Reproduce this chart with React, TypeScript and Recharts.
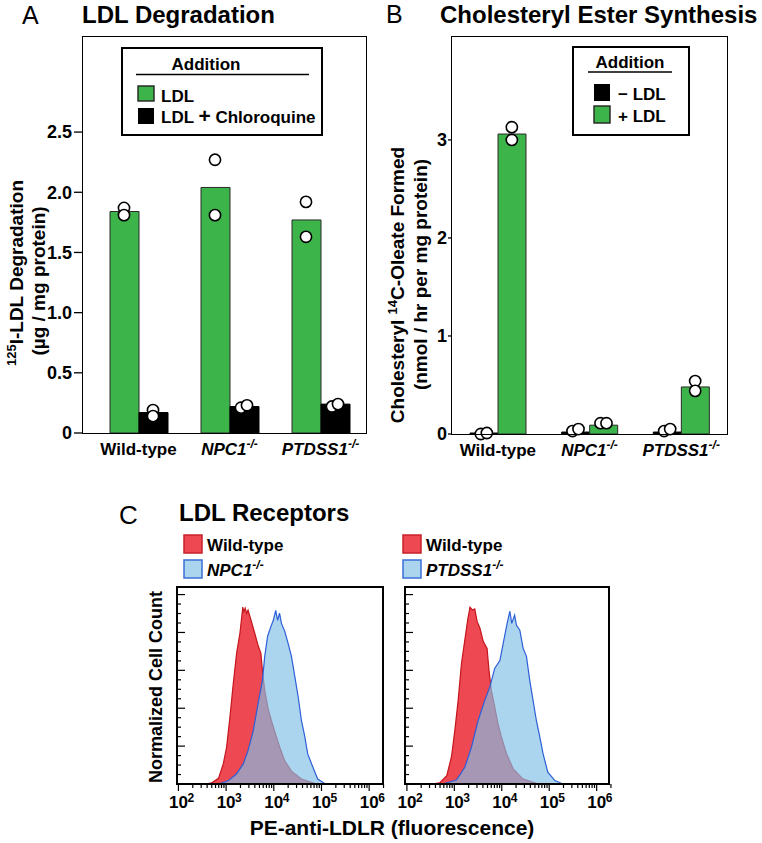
import React from 'react';
import { ComposedChart, Bar, Scatter, XAxis, YAxis, AreaChart, Area } from 'recharts';

const FONT = '"Liberation Sans", Arial, Helvetica, sans-serif';
const GREEN = '#3cb44a';
const RED_FILL = '#ee4852';
const RED_LINE = '#c4161c';
const BLUE_FILL = '#82bfe6';
const BLUE_LINE = '#2c5fd8';

// categories shared by panels A and B
const groups = ['Wild-type', 'NPC1', 'PTDSS1'];

// Panel A: 125I-LDL degradation (ug/mg protein)
const ldlMean = [1.84, 2.04, 1.77];
const ldlReps = [[1.87, 1.81], [2.27, 1.81], [1.92, 1.63]];
const chloroMean = [0.17, 0.22, 0.24];
const chloroReps = [[0.19, 0.14], [0.21, 0.23], [0.22, 0.24]];
const aTicks = [0, 0.5, 1, 1.5, 2, 2.5];

// Panel B: cholesteryl 14C-oleate formed (nmol/hr per mg protein)
const minusMean = [0.01, 0.02, 0.02];
const minusReps = [[0.0, 0.01], [0.03, 0.05], [0.03, 0.05]];
const plusMean = [3.06, 0.09, 0.48];
const plusReps = [[3.13, 3.0], [0.11, 0.11], [0.54, 0.44]];
const bTicks = [0, 1, 2, 3];

// Panel C: histograms, [log10 fluorescence, normalized count]
const npcRed = [
  [2.56, 0], [2.7, 0.03], [2.84, 0.15], [2.94, 0.53], [3.01, 0.97], [3.08, 1.77], [3.15, 2.65],
  [3.22, 3.45], [3.29, 3.98], [3.35, 4.67], [3.37, 4.55], [3.4, 4.64], [3.43, 4.5], [3.46, 4.59],
  [3.53, 4.29], [3.6, 3.98], [3.67, 3.66], [3.73, 3.45], [3.76, 3.0], [3.81, 2.47], [3.88, 1.99],
  [3.95, 1.67], [4.02, 1.38], [4.125, 0.97], [4.23, 0.61], [4.37, 0.34], [4.58, 0.13], [4.85, 0.02], [4.96, 0],
];
const npcBlue = [
  [2.84, 0], [3.05, 0.09], [3.22, 0.27], [3.36, 0.53], [3.46, 0.88], [3.57, 1.41], [3.67, 2.12],
  [3.76, 2.73], [3.81, 3.37], [3.87, 3.9], [3.94, 4.16], [3.99, 4.32], [4.04, 4.58], [4.08, 4.32],
  [4.12, 4.51], [4.16, 4.24], [4.23, 4.03], [4.3, 3.71], [4.37, 3.37], [4.44, 2.84], [4.51, 2.31],
  [4.58, 1.67], [4.65, 1.25], [4.71, 0.8], [4.82, 0.44], [4.92, 0.13], [5.06, 0.02], [5.17, 0],
];
const ptdRed = [
  [2.52, 0], [2.69, 0.03], [2.84, 0.22], [2.94, 0.72], [3.01, 1.41], [3.08, 2.2], [3.15, 3.18],
  [3.22, 3.79], [3.28, 4.32], [3.33, 4.67], [3.38, 4.59], [3.43, 4.62], [3.48, 4.29], [3.54, 4.11],
  [3.61, 3.76], [3.69, 3.58], [3.73, 3.0], [3.78, 2.47], [3.85, 2.04], [3.92, 1.59], [3.99, 1.25],
  [4.1, 0.8], [4.24, 0.4], [4.45, 0.13], [4.73, 0.02], [4.85, 0],
];
const ptdBlue = [
  [2.76, 0], [3.05, 0.11], [3.22, 0.44], [3.36, 0.97], [3.5, 1.67], [3.64, 2.2], [3.75, 2.57],
  [3.85, 3.05], [3.96, 3.26], [4.03, 3.71], [4.1, 4.16], [4.17, 4.56], [4.21, 4.24], [4.27, 4.46],
  [4.31, 4.19], [4.38, 4.06], [4.45, 3.58], [4.52, 3.37], [4.59, 2.73], [4.66, 2.2], [4.73, 1.67],
  [4.8, 1.25], [4.87, 0.8], [4.97, 0.31], [5.12, 0.09], [5.29, 0],
];
const cYTicks = [0.25, 0.5, 0.75, 1, 1.25, 1.5, 1.75, 2, 2.25, 2.5, 2.75, 3, 3.25, 3.5, 3.75, 4, 4.25, 4.5, 4.75, 5];
const cDecades = [2, 3, 4, 5, 6];
const cMinor = [2, 3, 4, 5, 6, 7, 8, 9];

const cXTicks = cDecades.flatMap((d) => [d, ...cMinor.map((m) => d + Math.log10(m))]);

const rowsA = groups.map((name, i) => ({
  name,
  ldl: ldlMean[i], chloro: chloroMean[i],
  g1: ldlReps[i][0], g2: ldlReps[i][1], k1: chloroReps[i][0], k2: chloroReps[i][1],
}));
const rowsB = groups.map((name, i) => ({
  name,
  minus: minusMean[i], plus: plusMean[i],
  k1: minusReps[i][0], k2: minusReps[i][1], g1: plusReps[i][0], g2: plusReps[i][1],
}));

function mergeCurves(red: number[][], blue: number[][]) {
  const xs = Array.from(new Set([...red.map((p) => p[0]), ...blue.map((p) => p[0])])).sort((a, b) => a - b);
  const mr = new Map(red.map((p) => [p[0], p[1]]));
  const mb = new Map(blue.map((p) => [p[0], p[1]]));
  return xs.map((x) => ({ x, red: mr.get(x), blue: mb.get(x) }));
}

// replicate circle, shifted over its own bar; near-identical pairs are spread apart
const makeDot = (shift: number, key: string, other: string, side: number, thr: number) => (props: any) => {
  const { cx, cy, payload } = props;
  if (cx == null || cy == null) return <g />;
  const close = Math.abs(payload[key] - payload[other]) < thr;
  return <circle cx={cx + shift + (close ? side * 3 : 0)} cy={cy} r={5.6} fill="#fff" stroke="#000" strokeWidth={1.6} />;
};

const GroupTick = (props: any) => {
  const { x, y, payload } = props;
  const name = payload.value;
  return (
    <text x={x} y={y + 22} textAnchor="middle" fontFamily={FONT} fontWeight="bold" fontSize={17} fill="#000">
      {name === 'Wild-type' ? (
        'Wild-type'
      ) : (
        <>
          <tspan fontStyle="italic">{name}</tspan>
          <tspan fontStyle="italic" fontSize={12} dy={-7}>-/-</tspan>
        </>
      )}
    </text>
  );
};

const LogTick = (props: any) => {
  const { x, y, payload } = props;
  const v = payload.value;
  const major = Math.abs(v - Math.round(v)) < 1e-6;
  return (
    <g>
      <line x1={x} x2={x} y1={y} y2={y + (major ? 7 : 4)} stroke="#000" strokeWidth={1.2} />
      {major && (
        <text x={x} y={y + 24} textAnchor="middle" fontFamily={FONT} fontWeight="bold" fontSize={17} fill="#000">10</text>
      )}
      {major && (
        <text x={x + 9} y={y + 18} fontFamily={FONT} fontWeight="bold" fontSize={12} fill="#000">{Math.round(v)}</text>
      )}
    </g>
  );
};

const InTick = (props: any) => {
  const { x, y, payload } = props;
  const major = Math.abs(payload.value - Math.round(payload.value)) < 1e-6;
  return <line x1={x} x2={x + (major ? 8 : 4)} y1={y} y2={y} stroke="#000" strokeWidth={1.2} />;
};

const Frame = ({ left, top, width, height, bw }: any) => (
  <div
    style={{
      position: 'absolute', left: left - bw / 2, top: top - bw / 2, width: width + bw, height: height + bw,
      border: `${bw}px solid #000`, boxSizing: 'border-box', pointerEvents: 'none',
    }}
  />
);

const tickStyle = { fill: '#000', fontSize: 18, fontWeight: 'bold', fontFamily: FONT };

const Histogram = ({ rows, domain, left, right }: any) => (
  <AreaChart width={260} height={240} data={rows} margin={{ top: 7, right, left, bottom: 6 }}>
    <XAxis
      type="number" dataKey="x" domain={domain} ticks={cXTicks} interval={0} height={30}
      tickSize={0} tickMargin={0} tickLine={false} axisLine={false} tick={<LogTick />} allowDataOverflow
    />
    <YAxis
      type="number" domain={[0, 5.2]} ticks={cYTicks} interval={0} width={10}
      tickSize={0} tickMargin={0} tickLine={false} axisLine={false} tick={<InTick />}
    />
    <Area type="linear" dataKey="red" stroke={RED_LINE} strokeWidth={1.2} fill={RED_FILL} fillOpacity={1} connectNulls isAnimationActive={false} />
    <Area type="linear" dataKey="blue" stroke={BLUE_LINE} strokeWidth={1.2} fill={BLUE_FILL} fillOpacity={0.67} connectNulls isAnimationActive={false} />
  </AreaChart>
);

const txt = { fontFamily: FONT, fill: '#000' } as any;

// rotated axis title; cx is the visual centre of the line, the baseline sits ~0.35em to its right
const VLabel = ({ cx, cy, size, children }: any) => (
  <text transform={`translate(${cx + size * 0.35},${cy}) rotate(-90)`} textAnchor="middle" fontSize={size} fontWeight="bold" {...txt}>
    {children}
  </text>
);

export default function App() {
  return (
    <div style={{ position: 'absolute', left: 0, top: 0, width: 762, height: 843, background: '#fff', fontFamily: FONT }}>
      {/* Panel A */}
      <div style={{ position: 'absolute', left: 0, top: 0 }}>
        <ComposedChart width={380} height={470} data={rowsA} margin={{ top: 37, right: 14, bottom: 7, left: 0 }} barGap={0}>
          <XAxis dataKey="name" type="category" allowDuplicatedCategory={false} padding={{ left: 10, right: 0 }}
            height={30} tickSize={0} tickMargin={0} tickLine={false} axisLine={false} interval={0} tick={<GroupTick />} />
          <YAxis type="number" domain={[0, 3.29]} ticks={aTicks} width={83} tickSize={9} tickMargin={2}
            axisLine={false} tickLine={{ stroke: '#000', strokeWidth: 1.3 }} tick={tickStyle} interval={0}
            tickFormatter={(v: number) => (v === 0 ? '0' : v.toFixed(1))} />
          <Bar dataKey="ldl" fill={GREEN} stroke="#2a2a2a" strokeWidth={1} barSize={29} isAnimationActive={false} />
          <Bar dataKey="chloro" fill="#000" stroke="#000" strokeWidth={1} barSize={29} isAnimationActive={false} />
          <Scatter dataKey="g1" shape={makeDot(-14.5, 'g1', 'g2', -1, 0.04)} isAnimationActive={false} />
          <Scatter dataKey="g2" shape={makeDot(-14.5, 'g2', 'g1', 1, 0.04)} isAnimationActive={false} />
          <Scatter dataKey="k1" shape={makeDot(14.5, 'k1', 'k2', -1, 0.04)} isAnimationActive={false} />
          <Scatter dataKey="k2" shape={makeDot(14.5, 'k2', 'k1', 1, 0.04)} isAnimationActive={false} />
        </ComposedChart>
      </div>
      <Frame left={83} top={37} width={283} height={396} bw={1.6} />

      {/* Panel B */}
      <div style={{ position: 'absolute', left: 380, top: 0 }}>
        <ComposedChart width={382} height={470} data={rowsB} margin={{ top: 37, right: 35, bottom: 6, left: 0 }} barGap={0}>
          <XAxis dataKey="name" type="category" allowDuplicatedCategory={false}
            height={30} tickSize={0} tickMargin={0} tickLine={false} axisLine={false} interval={0} tick={<GroupTick />} />
          <YAxis type="number" domain={[0, 4.05]} ticks={bTicks} width={72} tickSize={4} tickMargin={1}
            axisLine={false} tickLine={{ stroke: '#000', strokeWidth: 1.3 }} tick={tickStyle} interval={0} />
          <Bar dataKey="minus" fill="#000" stroke="#000" strokeWidth={1} barSize={28} isAnimationActive={false} />
          <Bar dataKey="plus" fill={GREEN} stroke="#2a2a2a" strokeWidth={1} barSize={28} isAnimationActive={false} />
          <Scatter dataKey="k1" shape={makeDot(-14, 'k1', 'k2', -1, 0.05)} isAnimationActive={false} />
          <Scatter dataKey="k2" shape={makeDot(-14, 'k2', 'k1', 1, 0.05)} isAnimationActive={false} />
          <Scatter dataKey="g1" shape={makeDot(14, 'g1', 'g2', -1, 0.05)} isAnimationActive={false} />
          <Scatter dataKey="g2" shape={makeDot(14, 'g2', 'g1', 1, 0.05)} isAnimationActive={false} />
        </ComposedChart>
      </div>
      <Frame left={452} top={37} width={275} height={397} bw={1.6} />

      {/* Panel C */}
      <div style={{ position: 'absolute', left: 130, top: 580 }}>
        <Histogram rows={mergeCurves(npcRed, npcBlue)} domain={[1.97, 6.29]} left={37} right={7} />
      </div>
      <Frame left={177} top={587} width={206} height={197} bw={2.2} />
      <div style={{ position: 'absolute', left: 358, top: 580 }}>
        <Histogram rows={mergeCurves(ptdRed, ptdBlue)} domain={[1.96, 6.26]} left={37} right={9} />
      </div>
      <Frame left={405} top={587} width={204} height={197} bw={2.2} />

      {/* titles, axis titles, legends */}
      <svg width={762} height={843} style={{ position: 'absolute', left: 0, top: 0, pointerEvents: 'none' }}>
        <text x={22} y={24} fontSize={25} {...txt}>A</text>
        <text x={82} y={23} fontSize={24} fontWeight="bold" {...txt}>LDL Degradation</text>
        <text x={386} y={23} fontSize={25} {...txt}>B</text>
        <text x={440} y={23} fontSize={24} fontWeight="bold" {...txt}>Cholesteryl Ester Synthesis</text>
        <text x={119} y={524} fontSize={26} {...txt}>C</text>
        <text x={179} y={521} fontSize={24} fontWeight="bold" {...txt}>LDL Receptors</text>

        <VLabel cx={16} cy={273} size={19}>
          <tspan fontSize={13} dy={-7}>125</tspan>
          <tspan dy={7}>I-LDL Degradation</tspan>
        </VLabel>
        <VLabel cx={38.5} cy={281} size={19}>(µg / mg protein)</VLabel>
        <VLabel cx={397.5} cy={285} size={19}>
          Cholesteryl <tspan fontSize={13} dy={-7}>14</tspan>
          <tspan dy={7}>C-Oleate Formed</tspan>
        </VLabel>
        <VLabel cx={420} cy={274.5} size={19}>(nmol / hr per mg protein)</VLabel>
        <VLabel cx={156} cy={687} size={18}>Normalized Cell Count</VLabel>
        <text x={392} y={835} textAnchor="middle" fontSize={21} fontWeight="bold" {...txt}>PE-anti-LDLR (fluorescence)</text>

        {/* legend A */}
        <rect x={122} y={48} width={200} height={87} fill="#fff" stroke="#000" strokeWidth={2} />
        <text x={206} y={70} textAnchor="middle" fontSize={17} fontWeight="bold" {...txt}>Addition</text>
        <line x1={136} x2={309} y1={74.5} y2={74.5} stroke="#000" strokeWidth={1.5} />
        <rect x={138} y={86} width={16} height={15} fill={GREEN} stroke="#222" strokeWidth={1.4} />
        <text x={161} y={102} fontSize={17} fontWeight="bold" {...txt}>LDL</text>
        <rect x={138} y={108} width={16} height={16} fill="#000" />
        <text x={161} y={123} fontSize={17} fontWeight="bold" {...txt}>
          LDL <tspan fontSize={21}>+</tspan> Chloroquine
        </text>

        {/* legend B */}
        <rect x={573} y={47} width={116} height={88} fill="#fff" stroke="#000" strokeWidth={2} />
        <text x={630} y={68} textAnchor="middle" fontSize={17} fontWeight="bold" {...txt}>Addition</text>
        <line x1={588} x2={672} y1={72} y2={72} stroke="#000" strokeWidth={1.5} />
        <rect x={594} y={84} width={16} height={17} fill="#000" />
        <text x={618} y={100} fontSize={17} fontWeight="bold" {...txt}>− LDL</text>
        <rect x={594} y={106} width={16} height={17} fill={GREEN} stroke="#222" strokeWidth={1.4} />
        <text x={618} y={122} fontSize={17} fontWeight="bold" {...txt}>+ LDL</text>

        {/* legends C */}
        {[
          { x: 184, label: 'NPC1' },
          { x: 403, label: 'PTDSS1' },
        ].map((l) => (
          <g key={l.label}>
            <rect x={l.x} y={535} width={18} height={18} fill={RED_FILL} stroke="#c8202a" strokeWidth={1.5} />
            <text x={l.x + 23} y={551} fontSize={17} fontWeight="bold" {...txt}>Wild-type</text>
            <rect x={l.x} y={560} width={18} height={18} fill="#abd4ee" stroke="#3a6fd8" strokeWidth={1.5} />
            <text x={l.x + 23} y={576} fontSize={17} fontWeight="bold" fontStyle="italic" {...txt}>
              {l.label}
              <tspan fontSize={12} dy={-7}>-/-</tspan>
            </text>
          </g>
        ))}
      </svg>
    </div>
  );
}
